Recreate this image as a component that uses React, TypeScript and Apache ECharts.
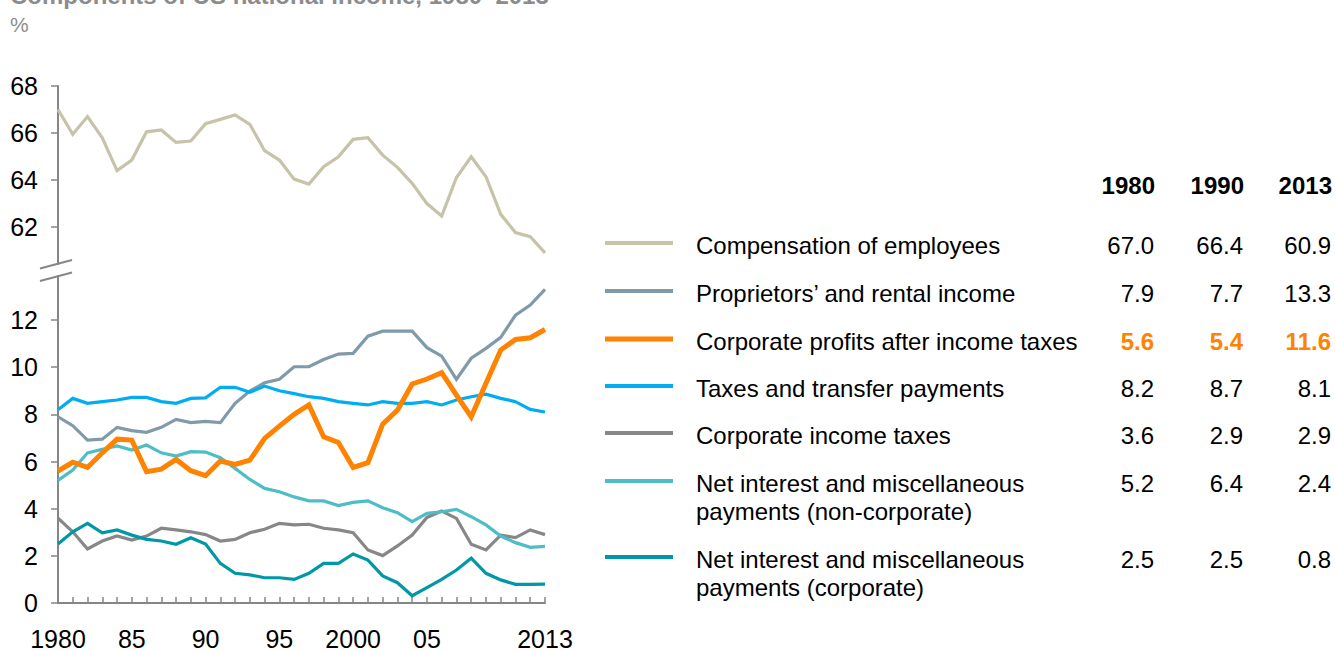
import React, { useEffect, useRef } from "react";
import * as echarts from "echarts";

const years = [
  1980, 1981, 1982, 1983, 1984, 1985, 1986, 1987, 1988, 1989,
  1990, 1991, 1992, 1993, 1994, 1995, 1996, 1997, 1998, 1999,
  2000, 2001, 2002, 2003, 2004, 2005, 2006, 2007, 2008, 2009,
  2010, 2011, 2012, 2013,
];

const compensation = [
  67.0, 65.95, 66.7, 65.8, 64.4, 64.85, 66.05, 66.13, 65.6, 65.66,
  66.4, 66.58, 66.77, 66.37, 65.25, 64.85, 64.04, 63.83, 64.57, 64.99,
  65.73, 65.8, 65.06, 64.54, 63.86, 63.0, 62.47, 64.11, 64.99, 64.14,
  62.54, 61.77, 61.59, 60.9,
];
const proprietors = [
  7.9, 7.52, 6.91, 6.95, 7.45, 7.31, 7.24, 7.45, 7.79, 7.65,
  7.7, 7.65, 8.47, 8.99, 9.34, 9.49, 10.02, 10.02, 10.33, 10.56,
  10.59, 11.32, 11.53, 11.53, 11.53, 10.83, 10.47, 9.49, 10.38, 10.8,
  11.27, 12.21, 12.64, 13.3,
];
const profits = [
  5.6, 5.97, 5.75, 6.37, 6.95, 6.91, 5.57, 5.68, 6.09, 5.61,
  5.4, 6.02, 5.88, 6.06, 6.98, 7.5, 8.0, 8.4, 7.05, 6.81,
  5.75, 5.95, 7.59, 8.18, 9.29, 9.5, 9.77, 8.82, 7.9, 9.32,
  10.73, 11.18, 11.25, 11.6,
];
const taxesTransfers = [
  8.2, 8.68, 8.47, 8.54, 8.61, 8.72, 8.72, 8.54, 8.47, 8.68,
  8.7, 9.15, 9.15, 8.94, 9.2, 9.0, 8.88, 8.75, 8.68, 8.54,
  8.47, 8.4, 8.54, 8.47, 8.47, 8.54, 8.4, 8.61, 8.75, 8.86,
  8.68, 8.54, 8.21, 8.1,
];
const corpTaxes = [
  3.6, 3.02, 2.29, 2.63, 2.84, 2.67, 2.84, 3.17, 3.1, 3.02,
  2.9, 2.63, 2.7, 2.98, 3.13, 3.38, 3.31, 3.34, 3.17, 3.1,
  2.98, 2.25, 2.01, 2.42, 2.88, 3.63, 3.9, 3.59, 2.49, 2.25,
  2.88, 2.77, 3.1, 2.9,
];
const netIntNonCorp = [
  5.2, 5.64, 6.37, 6.52, 6.66, 6.49, 6.7, 6.37, 6.23, 6.42,
  6.4, 6.16, 5.71, 5.24, 4.86, 4.72, 4.5, 4.33, 4.33, 4.13,
  4.27, 4.33, 4.04, 3.83, 3.45, 3.8, 3.87, 3.97, 3.66, 3.31,
  2.84, 2.56, 2.36, 2.4,
];
const netIntCorp = [
  2.5, 3.02, 3.38, 2.98, 3.1, 2.88, 2.7, 2.63, 2.49, 2.77,
  2.5, 1.68, 1.26, 1.19, 1.07, 1.07, 1.0, 1.26, 1.68, 1.68,
  2.08, 1.82, 1.15, 0.86, 0.31, 0.65, 1.0, 1.4, 1.9, 1.26,
  0.98, 0.79, 0.79, 0.8,
];

const rowLabels = [
  "Compensation of employees",
  "Proprietors’ and rental income",
  "Corporate profits after income taxes",
  "Taxes and transfer payments",
  "Corporate income taxes",
  "Net interest and miscellaneous\npayments (non-corporate)",
  "Net interest and miscellaneous\npayments (corporate)",
];
const tableYears = ["1980", "1990", "2013"];
const col1980 = [67.0, 7.9, 5.6, 8.2, 3.6, 5.2, 2.5];
const col1990 = [66.4, 7.7, 5.4, 8.7, 2.9, 6.4, 2.5];
const col2013 = [60.9, 13.3, 11.6, 8.1, 2.9, 2.4, 0.8];

const upperTicks = [62, 64, 66, 68];
const lowerTicks = [0, 2, 4, 6, 8, 10, 12];
const xLabelYears = [1980, 1985, 1990, 1995, 2000, 2005, 2013];
const xLabelText: Record<number, string> = {
  1980: "1980", 1985: "85", 1990: "90", 1995: "95", 2000: "2000", 2005: "05", 2013: "2013",
};

const FONT = "'Liberation Sans', Arial, Helvetica, sans-serif";
const AXIS_GRAY = "#868686";

// style per table row (same order as rowLabels)
const rowColors = ["#C6C3A8", "#7F9BAA", "#FF8200", "#00AEEF", "#878787", "#4DBDC6", "#0098A6"];
const rowWidths = [3.2, 3.2, 5, 3.2, 3.2, 3.2, 3.2];
const rowSeries = [compensation, proprietors, profits, taxesTransfers, corpTaxes, netIntNonCorp, netIntCorp];
const rowCenters = [245, 293, 341, 388, 435, 483, 559];
const colRight = [1154, 1243, 1331];
const drawOrder = [0, 1, 3, 4, 5, 6, 2];

export default function App() {
  const ref = useRef<HTMLDivElement>(null);

  useEffect(() => {
    if (!ref.current) return;
    const chart = echarts.init(ref.current, null, { renderer: "svg" });

    const series = drawOrder.map((i) => ({
      type: "line",
      name: rowLabels[i],
      xAxisIndex: i === 0 ? 0 : 1,
      yAxisIndex: i === 0 ? 0 : 1,
      data: years.map((y, k) => [y, rowSeries[i][k]]),
      symbol: "none",
      showSymbol: false,
      silent: true,
      lineStyle: { color: rowColors[i], width: rowWidths[i], join: "miter" },
      itemStyle: { color: rowColors[i] },
      z: i === 2 ? 5 : 3,
    }));

    const graphics: any[] = [];
    graphics.push({
      type: "text",
      x: 10,
      y: 7,
      style: {
        text: "Components of US national income, 1980–2013",
        fontSize: 24,
        fontWeight: "bold",
        fontFamily: FONT,
        fill: "#8C8C8C",
        textAlign: "left",
        textVerticalAlign: "bottom",
      },
    });
    graphics.push({
      type: "text",
      x: 10,
      y: 24,
      style: {
        text: "%",
        fontSize: 21,
        fontFamily: FONT,
        fill: "#8C8C8C",
        textAlign: "left",
        textVerticalAlign: "middle",
      },
    });
    // axis break marks
    graphics.push({
      type: "line",
      shape: { x1: 40, y1: 268.5, x2: 72, y2: 260 },
      style: { stroke: AXIS_GRAY, lineWidth: 2 },
    });
    graphics.push({
      type: "line",
      shape: { x1: 40, y1: 281, x2: 72, y2: 272.5 },
      style: { stroke: AXIS_GRAY, lineWidth: 2 },
    });
    // table headers
    tableYears.forEach((t, c) => {
      graphics.push({
        type: "text",
        x: colRight[c] + 1,
        y: 185,
        style: {
          text: t,
          fontSize: 24,
          fontWeight: "bold",
          fontFamily: FONT,
          fill: "#000",
          textAlign: "right",
          textVerticalAlign: "middle",
        },
      });
    });
    const cols = [col1980, col1990, col2013];
    rowLabels.forEach((label, r) => {
      const cy = rowCenters[r];
      graphics.push({
        type: "line",
        shape: { x1: 605, y1: cy - 2, x2: 673, y2: cy - 2 },
        style: { stroke: rowColors[r], lineWidth: r === 2 ? 5 : 4 },
      });
      graphics.push({
        type: "text",
        x: 696,
        y: cy - 14,
        style: {
          text: label,
          fontSize: 24,
          lineHeight: 28,
          fontFamily: FONT,
          fill: "#000",
          textAlign: "left",
          textVerticalAlign: "top",
        },
      });
      cols.forEach((col, c) => {
        graphics.push({
          type: "text",
          x: colRight[c],
          y: cy - 14,
          style: {
            text: col[r].toFixed(1),
            fontSize: 24,
            lineHeight: 28,
            fontFamily: FONT,
            fontWeight: r === 2 ? "bold" : "normal",
            fill: r === 2 ? "#FF8200" : "#000",
            textAlign: "right",
            textVerticalAlign: "top",
          },
        });
      });
    });

    chart.setOption({
      animation: false,
      grid: [
        { left: 58, top: 86, width: 487, height: 178 },
        { left: 58, top: 276, width: 487, height: 327 },
      ],
      xAxis: [
        {
          type: "value",
          gridIndex: 0,
          min: 1980,
          max: 2013,
          show: false,
        },
        {
          type: "value",
          gridIndex: 1,
          min: 1980,
          max: 2013,
          interval: 1,
          axisLine: { show: true, onZero: false, lineStyle: { color: AXIS_GRAY, width: 2 } },
          axisTick: { show: true, inside: true, length: 6, lineStyle: { color: AXIS_GRAY, width: 1.5 } },
          axisLabel: {
            customValues: xLabelYears,
            formatter: (v: number) => xLabelText[v] ?? "",
            fontSize: 25,
            fontFamily: FONT,
            color: "#000",
            margin: 23,
          },
          splitLine: { show: false },
        },
      ],
      yAxis: [
        {
          type: "value",
          gridIndex: 0,
          min: 60.43,
          max: 68,
          axisLine: { show: true, lineStyle: { color: AXIS_GRAY, width: 2 } },
          axisTick: { show: true, length: 7, customValues: upperTicks, lineStyle: { color: AXIS_GRAY, width: 1.5 } },
          axisLabel: {
            customValues: upperTicks,
            fontSize: 25,
            fontFamily: FONT,
            color: "#000",
            margin: 20,
          },
          splitLine: { show: false },
        },
        {
          type: "value",
          gridIndex: 1,
          min: 0,
          max: 13.87,
          axisLine: { show: true, lineStyle: { color: AXIS_GRAY, width: 2 } },
          axisTick: { show: true, length: 7, customValues: lowerTicks, lineStyle: { color: AXIS_GRAY, width: 1.5 } },
          axisLabel: {
            customValues: lowerTicks,
            fontSize: 25,
            fontFamily: FONT,
            color: "#000",
            margin: 20,
          },
          splitLine: { show: false },
        },
      ],
      series,
      graphic: graphics,
    });

    return () => chart.dispose();
  }, []);

  return (
    <div
      ref={ref}
      style={{ position: "fixed", left: 0, top: 0, width: 1335, height: 651, background: "#fff" }}
    />
  );
}
